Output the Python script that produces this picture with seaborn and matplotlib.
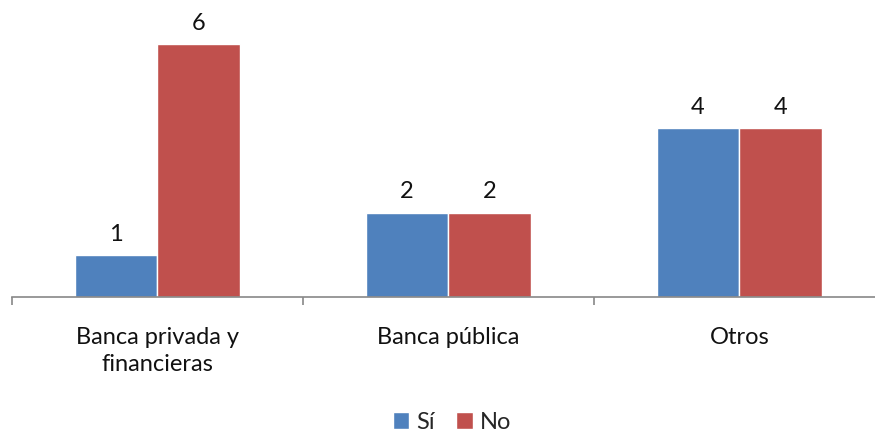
import pandas as pd
import matplotlib.pyplot as plt
import seaborn as sns

categorias = ["Banca privada y\nfinancieras", "Banca pública", "Otros"]
si = [1, 2, 4]
no = [6, 2, 4]

df = pd.DataFrame({
    "categoria": categorias * 2,
    "valor": si + no,
    "serie": ["Sí"] * 3 + ["No"] * 3,
})

sns.set_style("white")
plt.rcParams['font.family'] = ['Lato', 'DejaVu Sans']

fig = plt.figure(figsize=(8.75, 4.35), dpi=100)
ax = fig.add_axes([12 / 875, 137 / 435, 873 / 875, 295.4 / 435])

sns.barplot(data=df, x="categoria", y="valor", hue="serie",
            palette=["#4F81BD", "#C0504D"], width=0.57, saturation=1,
            ax=ax, legend=True)

for c in ax.containers:
    ax.bar_label(c, fontsize=17, padding=8, color="#111111")

ax.set_ylim(0, 7)
ax.set_xlim(-0.5, 2.5)
ax.set_yticks([])
ax.set_xlabel("")
ax.set_ylabel("")
for s in ["top", "right", "left"]:
    ax.spines[s].set_visible(False)
ax.spines["bottom"].set_color("#888888")
ax.spines["bottom"].set_linewidth(1.2)

ax.set_xticks([0, 1, 2])
ax.set_xticklabels(categorias, fontsize=17, color="#111111", linespacing=1.35)
ax.tick_params(axis="x", which="major", length=0, pad=21)
ax.set_xticks([-0.5, 0.5, 1.5, 2.5], minor=True)
ax.tick_params(axis="x", which="minor", bottom=True, length=6, width=1.2,
               color="#888888", direction="out")

leg = ax.legend(loc="center", bbox_to_anchor=(452 / 875, 12 / 435),
                bbox_transform=fig.transFigure, ncol=2, frameon=False,
                fontsize=17, handlelength=0.7, handleheight=0.7,
                handletextpad=0.3, columnspacing=0.9)

fig.savefig("out.png", dpi=100)
